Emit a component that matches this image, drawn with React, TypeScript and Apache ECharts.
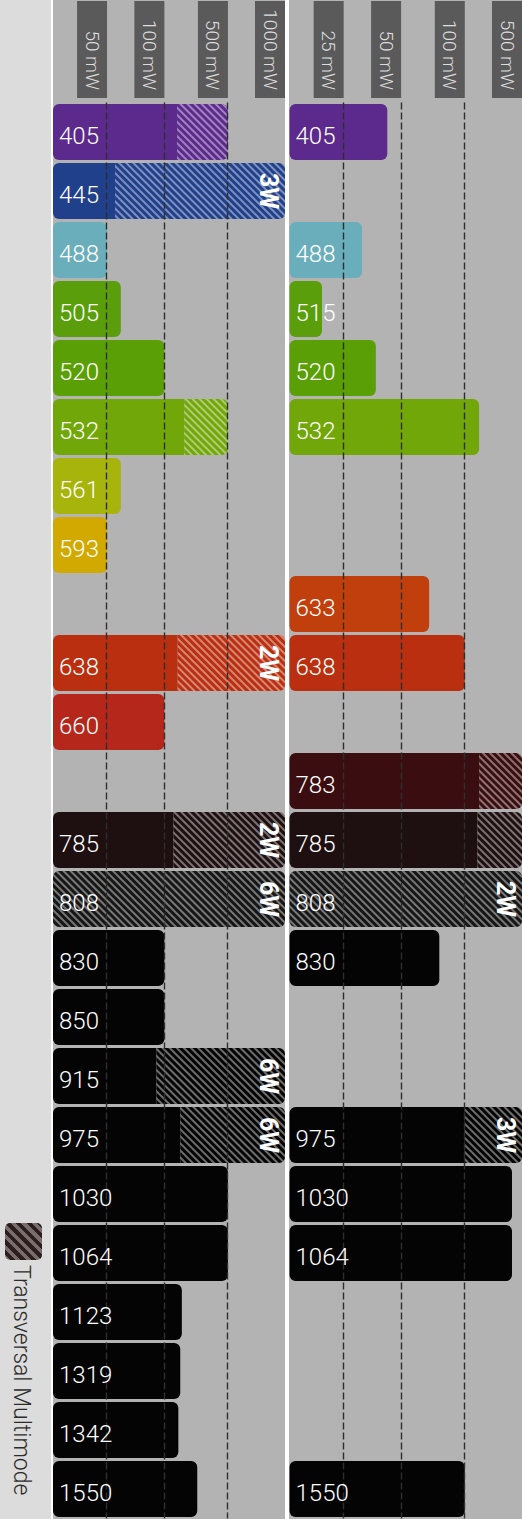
import React, { useEffect, useRef } from 'react';
import * as echarts from 'echarts';

// ---- scale (ordinal power ticks, equally-ish spaced) ----
const tickLabelsLeft = ['50 mW', '100 mW', '500 mW', '1000 mW'];
const tickMWLeft = [50, 100, 500, 1000];
const tickLabelsRight = ['25 mW', '50 mW', '100 mW', '500 mW'];
const tickMWRight = [25, 50, 100, 500];
const tickPos = [0.233, 0.48, 0.754, 1];

// ---- rows (wavelength, nm) ----
const rowsLeft = ['405', '445', '488', '505', '520', '532', '561', '593', null, '638', '660', null, '785', '808', '830', '850', '915', '975', '1030', '1064', '1123', '1319', '1342', '1550'];
const rowsRight = ['405', null, '488', '515', '520', '532', null, null, '633', '638', null, '783', '785', '808', '830', null, null, '975', '1030', '1064', null, null, null, '1550'];

// ---- power values (mW): single-mode part and transversal multimode total ----
const singleLeft = [180, 57, 50, 62, 100, 225, 62, 50, null, 184, 100, null, 157, 0, 100, 100, 93, 200, 500, 500, 210, 200, 188, 307];
const multiLeft = [500, 3000, null, null, null, 500, null, null, null, 2000, null, null, 2000, 6000, null, null, 6000, 6000, null, null, null, null, null, null];
const singleRight = [44, null, 33, 15, 39, 200, null, null, 72, 100, null, 200, 188, 0, 80, null, null, 100, 430, 430, null, null, null, 100];
const multiRight = [null, null, null, null, null, null, null, null, null, null, null, 500, 500, 2000, null, null, null, 3000, null, null, null, null, null, null];

const rowColors = ['#5b2a8c', '#21408c', '#6aaebc', '#5a9f0b', '#5b9f07', '#72a70a', '#a7b40c', '#d2a900', '#c03f0c', '#b92f0f', '#b5271b', '#3a0e10', '#1e0f10', '#161616', '#040404', '#040404', '#040404', '#040404', '#040404', '#040404', '#040404', '#040404', '#040404', '#040404'];

const FONT = 'Roboto, "DejaVu Sans", sans-serif';
const GRID_TOP = 102.5;
const ROW_H = 59;

function toAxis(mw: number, ticks: number[]): number {
  const knots = [0, ...ticks];
  const pos = [0, ...tickPos];
  if (mw >= knots[knots.length - 1]) return 1;
  for (let i = 1; i < knots.length; i++) {
    if (mw <= knots[i]) {
      return pos[i - 1] + ((mw - knots[i - 1]) / (knots[i] - knots[i - 1])) * (pos[i] - pos[i - 1]);
    }
  }
  return 1;
}

function fmtW(mw: number) {
  return `${mw / 1000}W`;
}

function panelSeries(gi: number, single: (number | null)[], multi: (number | null)[], ticks: number[]) {
  const maxMW = ticks[ticks.length - 1];
  const s = single.map((v) => (v == null ? null : toAxis(v, ticks)));
  const m = multi.map((v, i) => (v == null ? null : toAxis(v, ticks) - (s[i] ?? 0)));
  const singleSeries: any = {
    type: 'bar',
    name: 'single' + gi,
    xAxisIndex: gi,
    yAxisIndex: gi,
    stack: 'st' + gi,
    barWidth: 56,
    z: 2,
    data: s.map((v, i) =>
      v == null
        ? '-'
        : {
            value: v,
            itemStyle: { color: rowColors[i], borderRadius: multi[i] != null ? [6, 0, 0, 6] : 6 },
          }
    ),
    markLine: {
      silent: true,
      symbol: ['none', 'none'],
      label: { show: false },
      emphasis: { disabled: true },
      lineStyle: { type: [7, 3], color: '#2e2e2e', width: 1.4 },
      data: tickPos.slice(0, 3).map((p) => ({ xAxis: p })),
      z: 6,
    },
  };
  const multiSeries: any = {
    type: 'bar',
    name: 'multi' + gi,
    xAxisIndex: gi,
    yAxisIndex: gi,
    stack: 'st' + gi,
    barWidth: 56,
    z: 2,
    itemStyle: {
      decal: {
        symbol: 'rect',
        symbolSize: 1,
        dashArrayX: [1, 0],
        dashArrayY: [2, 3],
        rotation: Math.PI / 4,
        color: 'rgba(255,255,255,0.42)',
      },
    },
    label: {
      show: false,
      position: 'insideRight',
      distance: 17,
      rotate: -90,
      align: 'center',
      verticalAlign: 'middle',
      color: '#ffffff',
      fontFamily: FONT,
      fontWeight: 'bold',
      fontSize: 25,
      formatter: (p: any) => fmtW(multi[p.dataIndex] as number),
    },
    data: m.map((v, i) =>
      v == null
        ? '-'
        : {
            value: v,
            itemStyle: {
              color: rowColors[i],
              borderRadius: (single[i] ?? 0) > 0 ? [0, 6, 6, 0] : 6,
            },
            label: { show: (multi[i] as number) > maxMW },
          }
    ),
  };
  return [singleSeries, multiSeries];
}

function xAxisFor(gi: number, labels: string[]) {
  return {
    type: 'value',
    gridIndex: gi,
    min: 0,
    max: 1,
    position: 'top',
    axisLine: { show: false },
    axisTick: { show: false },
    splitLine: { show: false },
    axisLabel: {
      customValues: tickPos,
      rotate: 90,
      margin: 4.5,
      align: 'right',
      verticalAlign: 'top',
      hideOverlap: false,
      formatter: (v: number) => {
        const i = tickPos.findIndex((p) => Math.abs(p - v) < 1e-6);
        return `{b|${labels[i] ?? ''}}`;
      },
      rich: {
        b: {
          backgroundColor: '#5a5a5a',
          color: '#dedede',
          fontFamily: FONT,
          fontSize: 19,
          fontWeight: 300,
          width: 89,
          height: 30,
          lineHeight: 30,
          align: 'right',
          padding: [0, 8, 0, 0],
        },
      },
    },
  };
}

function yAxisFor(gi: number, rows: (string | null)[]) {
  return {
    type: 'category',
    gridIndex: gi,
    inverse: true,
    z: 10,
    data: rows.map((w, i) => (w == null ? `-${i}` : w)),
    axisLine: { show: false },
    axisTick: { show: false },
    splitLine: { show: false },
    axisLabel: {
      inside: true,
      interval: 0,
      margin: 6,
      color: '#ffffff',
      fontFamily: FONT,
      fontWeight: 300,
      fontSize: 24,
      verticalAlign: 'top',
      lineHeight: 8,
      formatter: (v: string) => (v.startsWith('-') ? '' : v),
    },
  };
}

function legendStripes() {
  const N = 7;
  const dark = '#2a1e1e';
  const light = '#7a6c6b';
  const stops: any[] = [];
  for (let k = 0; k < N; k++) {
    const a = k / N;
    const b = (k + 0.5) / N;
    const c = (k + 1) / N;
    stops.push({ offset: a, color: dark }, { offset: b, color: dark }, { offset: b, color: light }, { offset: c, color: light });
  }
  return new echarts.graphic.LinearGradient(1, 0, 0, 1, stops);
}

export default function App() {
  const ref = useRef<HTMLDivElement>(null);
  useEffect(() => {
    document.body.style.margin = '0';
    if (!ref.current) return;
    const chart = echarts.init(ref.current, null, { renderer: 'svg' });
    const gridH = ROW_H * rowsLeft.length;
    chart.setOption({
      animation: false,
      backgroundColor: '#ffffff',
      graphic: {
        elements: [
          { type: 'rect', z: -10, silent: true, shape: { x: 0, y: 0, width: 51, height: 1519 }, style: { fill: '#dcdcdc' } },
          { type: 'rect', z: -10, silent: true, shape: { x: 53, y: 0, width: 232, height: 1519 }, style: { fill: '#b3b3b3' } },
          { type: 'rect', z: -10, silent: true, shape: { x: 289, y: 0, width: 233, height: 1519 }, style: { fill: '#b3b3b3' } },
          { type: 'rect', silent: true, shape: { x: 5, y: 1223, width: 37, height: 37, r: 5 }, style: { fill: legendStripes() } },
          {
            type: 'text',
            silent: true,
            x: 21,
            y: 1265,
            rotation: -Math.PI / 2,
            style: {
              text: 'Transversal Multimode',
              fill: '#2b2b2b',
              fontFamily: FONT,
              fontSize: 23,
              fontWeight: 300,
              align: 'left',
              verticalAlign: 'middle',
            },
          },
        ],
      },
      grid: [
        { left: 53, top: GRID_TOP, width: 232, height: gridH, outerBoundsMode: 'none', containLabel: false },
        { left: 289.5, top: GRID_TOP, width: 232.5, height: gridH, outerBoundsMode: 'none', containLabel: false },
      ],
      xAxis: [xAxisFor(0, tickLabelsLeft), xAxisFor(1, tickLabelsRight)],
      yAxis: [yAxisFor(0, rowsLeft), yAxisFor(1, rowsRight)],
      series: [...panelSeries(0, singleLeft, multiLeft, tickMWLeft), ...panelSeries(1, singleRight, multiRight, tickMWRight)],
    });
    return () => chart.dispose();
  }, []);
  return <div ref={ref} style={{ width: 522, height: 1519 }} />;
}
